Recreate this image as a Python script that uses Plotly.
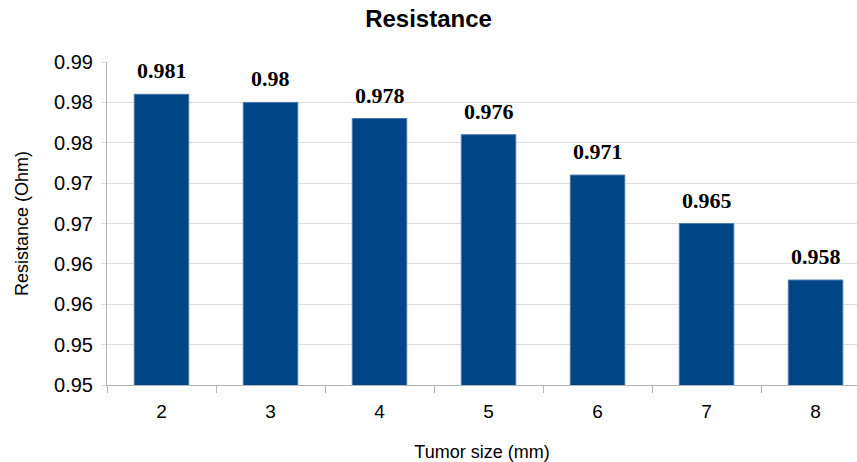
import plotly.graph_objects as go

# Tumor size categories and measured resistance
tumor_sizes = ["2", "3", "4", "5", "6", "7", "8"]
resistance = [0.981, 0.980, 0.978, 0.976, 0.971, 0.965, 0.958]
value_labels = ["0.981", "0.98", "0.978", "0.976", "0.971", "0.965", "0.958"]

# Y axis ticks every 0.005, labels shown rounded to two decimals
y_tick_values = [0.945, 0.950, 0.955, 0.960, 0.965, 0.970, 0.975, 0.980, 0.985]
y_tick_labels = ["0.95", "0.95", "0.96", "0.96", "0.97", "0.97", "0.98", "0.98", "0.99"]

bar_color = "#004586"
grid_color = "#dddddd"
axis_color = "#b3b3b3"

fig = go.Figure()
fig.add_trace(go.Bar(
    x=tumor_sizes,
    y=resistance,
    width=0.5,
    marker=dict(color=bar_color, line=dict(color="#4a79ad", width=1)),
    hoverinfo="x+y",
))

# Value labels above each bar (category index used as x position)
for i, (v, lbl) in enumerate(zip(resistance, value_labels)):
    fig.add_annotation(
        x=i, y=v, text=f"<b>{lbl}</b>", showarrow=False,
        xref="x", yref="y",
        yanchor="bottom", yshift=9,
        font=dict(family="Liberation Serif", size=22, color="black"),
    )

fig.update_layout(
    width=857, height=462,
    margin=dict(l=107, r=0, t=62, b=77),
    paper_bgcolor="white", plot_bgcolor="white",
    showlegend=False,
    title=dict(
        text="<b>Resistance</b>", x=0.5, xanchor="center",
        y=0.959, yanchor="middle",
        font=dict(family="Liberation Sans", size=24, color="black"),
    ),
    xaxis=dict(
        type="category",
        range=[-0.5, 6.38],
        showgrid=False,
        showline=True, linecolor=axis_color, linewidth=1,
        ticks="outside", tickson="boundaries", ticklen=7, tickcolor=axis_color,
        ticklabelstandoff=9,
        tickfont=dict(family="Liberation Sans", size=19, color="black"),
        title=dict(text="Tumor size (mm)", standoff=24,
                   font=dict(family="Liberation Sans", size=18, color="black")),
    ),
    yaxis=dict(
        range=[0.945, 0.985],
        tickmode="array", tickvals=y_tick_values, ticktext=y_tick_labels,
        showgrid=True, gridcolor=grid_color, gridwidth=1,
        showline=True, linecolor=axis_color, linewidth=1,
        ticks="outside", ticklen=5, tickcolor=grid_color,
        ticklabelstandoff=4,
        zeroline=False,
        tickfont=dict(family="Liberation Sans", size=20, color="black"),
        title=dict(text="Resistance (Ohm)", standoff=20,
                   font=dict(family="Liberation Sans", size=18, color="black")),
    ),
)

fig.write_html("out.html")
